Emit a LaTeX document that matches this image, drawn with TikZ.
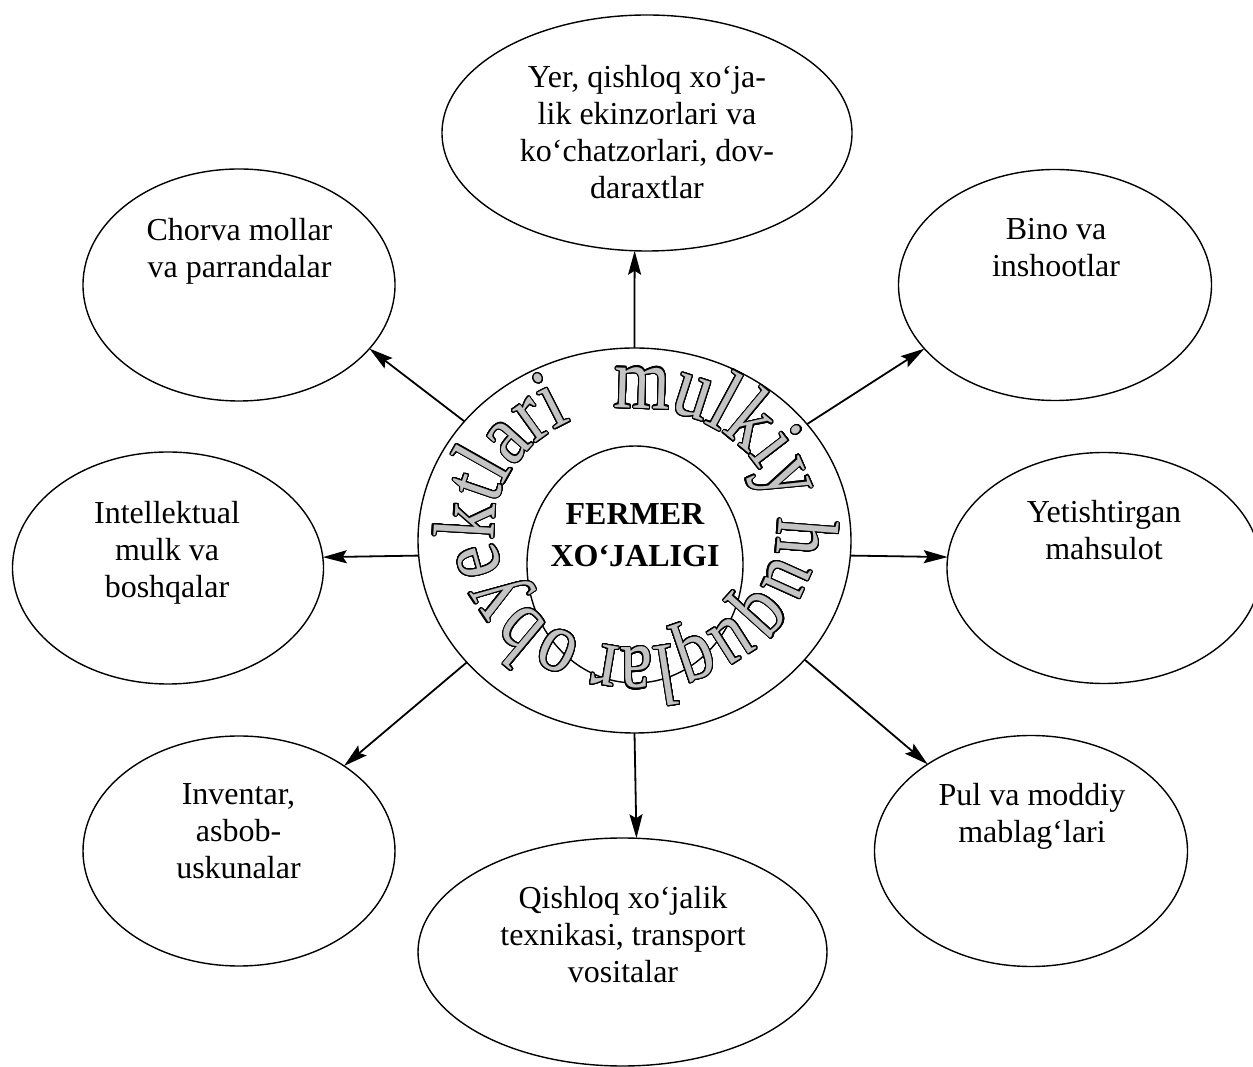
\documentclass[tikz,border=0pt]{standalone}
\usepackage{fontspec}
\setmainfont{Liberation Serif}
\newfontfamily\ringfont{Liberation Serif}
\usepackage{graphicx}
\usepackage[copies]{contour}
\contourlength{1.0pt}
\contournumber{32}
\usetikzlibrary{shapes.geometric,arrows.meta,calc}
\definecolor{ringgray}{RGB}{196,196,196}
\newcommand\ringglyph[1]{{\color{ringgray}\scalebox{1}[1.2]{\contour{black}{#1}}}}
\tikzset{
  oval/.style={ellipse, draw, line width=1.4pt, inner sep=0pt, outer sep=0pt},
  lbl/.style={align=center, inner sep=0pt, anchor=north, font=\fontsize{32}{37}\selectfont},
  conn/.style={line width=1.8pt, -{Stealth[length=24pt,width=13pt,inset=4pt]}},
  ringchr/.style={anchor=base, inner sep=0pt, outer sep=0pt, font=\ringfont\fontsize{72}{82}\selectfont}
}
\begin{document}
\begin{tikzpicture}[x=1pt,y=1pt]
\useasboundingbox (0,0) rectangle (1253,1066);
\fill[white] (0,0) rectangle (1253,1066);
\clip (0,0) rectangle (1253,1066);

% central ring and core
\node[oval, minimum width=433, minimum height=385] (ring) at (634.5,525.5) {};
\node[oval, minimum width=216, minimum height=237] (core) at (635,501.5) {};
\node[align=center, inner sep=0pt, anchor=north, font=\fontsize{32}{42}\selectfont\bfseries] (coreT) at (635,562.5) {FERMER\\XO‘JALIGI};

% outer ellipses
\node[oval, minimum width=410, minimum height=236] (yer) at (647,933) {};
\node[oval, minimum width=312, minimum height=232] (chorva) at (239,781) {};
\node[oval, minimum width=313, minimum height=231] (bino) at (1055,781) {};
\node[oval, minimum width=311, minimum height=232] (intel) at (168,498) {};
\node[oval, minimum width=314, minimum height=231] (yet) at (1104,498) {};
\node[oval, minimum width=312, minimum height=230] (inv) at (239,215) {};
\node[oval, minimum width=313, minimum height=231] (pul) at (1031,215) {};
\node[oval, minimum width=409, minimum height=228] (qish) at (622.5,114) {};

% texts
\node[lbl] (yerT) at (647,1001) {Yer, qishloq xo‘ja-\\lik ekinzorlari va\\ko‘chatzorlari, dov-\\daraxtlar};
\node[lbl] (chorvaT) at (239.5,848) {Chorva mollar\\va parrandalar};
\node[lbl] (binoT) at (1056,848) {Bino va\\inshootlar};
\node[lbl] (intelT) at (167,565) {Intellektual\\mulk va\\boshqalar};
\node[lbl] (yetT) at (1104,566) {Yetishtirgan\\mahsulot};
\node[lbl] (invT) at (238.5,283) {Inventar,\\asbob-\\uskunalar};
\node[lbl] (pulT) at (1032,283) {Pul va moddiy\\mablag‘lari};
\node[lbl] (qishT) at (623,180) {Qishloq xo‘jalik\\texnikasi, transport\\vositalar};

% connectors
\draw[conn] (ring.90) -- (yer.264);
\draw[conn] (ring.145) -- (chorva.-26);
\draw[conn] (ring.34) -- (bino.206);
\draw[conn] (ring.184) -- (intel.4);
\draw[conn] (ring.-4) -- (yet.176);
\draw[conn] (ring.216) -- (inv.39);
\draw[conn] (ring.-35) -- (pul.140);
\draw[conn] (ring.-90) -- (qish.83);

% curved text inside the ring (glyph widths of Liberation Serif, in em)
\coordinate (tc) at (636,538);
\def\ra{142}
\def\rb{120}
\xdef\curt{99}
\foreach \ch/\wem [count=\k] in {m/.778,u/.5,l/.278,k/.5,i/.278,y/.5,{}/.2,h/.5,u/.5,q/.5,u/.5,q/.5,l/.278,a/.444,r/.333,{}/.2,o/.5,b/.5,y/.5,e/.444,k/.5,t/.278,l/.278,a/.444,r/.333,i/.278}{
  \pgfmathsetmacro\w{\wem*72}%
  \pgfmathsetmacro\spd{10*sqrt((\ra/10*sin(\curt))^2+(\rb/10*cos(\curt))^2)}%
  \pgfmathsetmacro\tm{\curt-(\w/2)/\spd*180/pi}%
  \pgfmathsetmacro\rot{atan2(-\rb*cos(\tm),\ra*sin(\tm))}%
  \pgfmathsetmacro\spm{10*sqrt((\ra/10*sin(\tm))^2+(\rb/10*cos(\tm))^2)}%
  \pgfmathparse{\curt-\w/\spm*180/pi}%
  \xdef\curt{\pgfmathresult}%
  \node[ringchr, rotate=\rot] (c\k) at ($(tc)+(\tm:\ra pt and \rb pt)$) {\ringglyph{\ch}};
}
\end{tikzpicture}
\end{document}
